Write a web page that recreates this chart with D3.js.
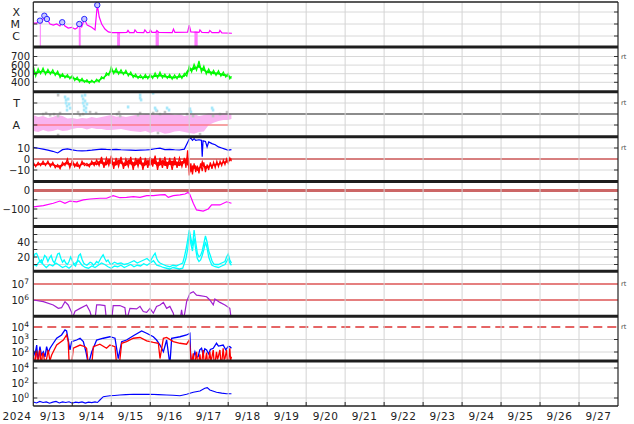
<!DOCTYPE html>
<html><head><meta charset="utf-8">
<script src="https://cdn.jsdelivr.net/npm/d3@7"></script>
<style>
body{margin:0;background:#fff}
svg{display:block}
text{font-family:"DejaVu Sans",sans-serif;fill:#222}
</style>
</head><body>
<svg id="c" width="634" height="424"></svg>
<script>
// ---------------- DATA (hours since 2024-09-13 00:00 UT) ----------------
const dayLabels = ["9/13","9/14","9/15","9/16","9/17","9/18","9/19","9/20","9/21","9/22","9/23","9/24","9/25","9/26","9/27"];
const yearLabel = "2024";

// Panel 1: X-ray flux
const xray = [[0,1.2e-5],[2.1,1.2e-5],[4.1,1.9e-5],[5.2,1.3e-5],[6.8,4.9e-5],[7.5,2.2e-5],[8.4,2.6e-5],[10.3,1e-5],[12.3,8e-6],[14.4,1e-5],[16.4,6.8e-6],[17.8,1.4e-5],[19.5,6.8e-6],[21.5,4.6e-6],[23.6,5.3e-6],[25.7,3.8e-6],[26.9,4.6e-6],[28.3,1e-5],[29.8,5.9e-6],[31.4,2.6e-5],[33.2,8e-6],[35.9,5.3e-6],[38,3.2e-6],[39.4,3.8e-4],[40.6,3.8e-5],[42.1,1e-5],[44.1,3.8e-6],[46.2,2.2e-6],[48.4,1.9e-6],[53.4,1.9e-6],[57.6,2.0e-6],[58.3,2.9e-6],[59.2,1.9e-6],[62,1.9e-6],[62.6,3.2e-6],[63.8,2.0e-6],[68,1.9e-6],[68.7,3.2e-6],[70,1.9e-6],[71.5,2e-6],[72.1,3.2e-6],[73,2e-6],[75.5,2e-6],[76.1,2.9e-6],[77.3,2e-6],[85.5,1.9e-6],[86.3,3.8e-6],[87.2,2e-6],[95,2.1e-6],[96,8e-6],[97,2.2e-6],[102,2e-6],[102.6,3.2e-6],[103.8,2e-6],[108,1.9e-6],[108.7,2.9e-6],[110,1.9e-6],[114.3,1.9e-6],[114.9,2.9e-6],[116.1,1.8e-6],[122.3,1.7e-6]];
const xrayGaps = [[4.0,4.6,1.9e-5],[28.0,29.2,1e-5],[51.6,53.4,1.9e-6],[75.3,77.3,2.2e-6],[99.2,101.2,2.4e-6]];
const xrayFlares = [[4.1,1.9e-5],[6.8,4.9e-5],[8.4,2.6e-5],[17.8,1.4e-5],[28.3,1e-5],[31.4,2.6e-5],[39.4,3.8e-4]];
const xrayTicks = [[1e-4,"X"],[1e-5,"M"],[1e-6,"C"]];

// Panel 2: solar wind speed envelope [hour, low, high]
const speed = [[0,440,590],[1.5,470,540],[3,480,560],[4.5,500,545],[6,495,565],[7.5,490,540],[9,490,550],[10.5,495,535],[12,485,545],[13.5,480,525],[15,470,530],[16.5,455,510],[18,445,500],[19.5,450,490],[21,435,490],[22.5,440,480],[24,425,480],[25.5,420,465],[27,410,460],[28.5,405,450],[30,395,445],[31.5,400,435],[33,385,430],[34.5,390,425],[36,385,425],[37.5,395,420],[39,395,435],[40.5,405,445],[42,420,465],[43.5,440,480],[45,455,510],[46.5,480,530],[48,495,580],[49.5,500,550],[51,490,560],[52.5,495,540],[54,485,545],[55.5,490,530],[57,480,540],[58.5,475,520],[60,465,520],[61.5,455,500],[63,440,495],[64.5,445,485],[66,430,485],[67.5,440,480],[69,430,490],[70.5,440,485],[72,435,495],[73.5,445,490],[75,440,510],[76.5,450,500],[78,445,520],[79.5,450,500],[81,440,495],[82.5,445,485],[84,430,490],[85.5,435,480],[87,425,485],[88.5,440,485],[90,435,495],[91.5,445,490],[93,445,505],[94.5,470,560],[96,500,590],[97.5,520,580],[99,520,610],[100.5,540,600],[102,540,650],[103.5,520,590],[105,505,590],[106.5,495,550],[108,485,555],[109.5,490,540],[111,475,540],[112.5,480,530],[114,470,535],[115.5,470,520],[117,455,520],[118.5,460,510],[120,440,500],[121,440,490],[122,425,470]];
const speedTicks = [400,500,600,700];

// Panel 3: T / A scatter
const pinkBand = [[0,0.45,-0.27],[3,0.36,-0.32],[6,0.41,-0.23],[9,0.32,-0.3],[12,0.36,-0.27],[15,0.45,-0.2],[18,0.41,-0.27],[21,0.3,-0.25],[24,0.32,-0.18],[27,0.27,-0.14],[30,0.32,-0.14],[33,0.3,-0.2],[36,0.36,-0.14],[39,0.32,-0.18],[42,0.36,-0.18],[45,0.41,-0.23],[48,0.45,-0.23],[51,0.38,-0.2],[54,0.41,-0.18],[57,0.36,-0.23],[60,0.41,-0.27],[63,0.45,-0.3],[66,0.45,-0.32],[69,0.5,-0.27],[72,0.5,-0.36],[75,0.45,-0.3],[78,0.5,-0.32],[81,0.55,-0.4],[84,0.55,-0.36],[87,0.45,-0.3],[90,0.5,-0.27],[93,0.41,-0.32],[96,0.45,-0.36],[99,0.5,-0.4],[102,0.41,-0.32],[105,0.45,-0.3],[108,0.55,0],[111,0.5,0.1],[114,0.55,0.18],[117,0.55,0.23],[120,0.55,0.23],[122,0.5,0.27]];
const bluePts = [[19.5,1.27],[20.1,1.14],[20.1,1.0],[20.7,0.86],[21.4,1.18],[22,0.95],[22.6,0.77],[20.7,0.68],[30,1.32],[30.6,1.18],[30.6,1.0],[31.2,0.86],[31.8,1.36],[31.8,1.09],[32.4,0.77],[33,0.95],[31.2,0.68],[32.4,0.59],[65.7,1.36],[65.7,1.23],[66.3,1.14],[58.3,0.82],[74.9,0.77],[75.5,0.68],[82.3,0.77],[83.5,0.68],[96.4,0.73],[97,0.59],[110,0.77],[110.6,0.68],[15.2,1.5],[73.7,1.45]];
const grayPts = [[6,0.5],[7.8,0.55],[10.3,0.45],[12.7,0.5],[15.2,0.41],[16.4,0.55],[15.2,-0.45],[15.2,1.36],[27.5,0.59],[28.7,0.45],[30.6,0.5],[34.9,0.59],[38.6,0.55],[51.5,0.5],[52.7,0.59],[53.4,0.41],[64.4,0.45],[65.7,0.55],[73.7,0.55],[76.1,0.64],[78,0.5],[81,0.59],[76.7,-0.36],[94.6,0.5],[96.4,0.64],[98.3,0.41],[102.6,-0.41],[110.6,0.41],[114.9,0.5],[119.2,0.59]];
const taTicks = [[1,"T"],[0,"A"]];

// Panel 4: magnetic field Bt and Bz envelope
const bt = [[0,10.5],[3,9.8],[6,9],[9,8],[12,7],[15,5.5],[18,8.5],[21,9.2],[24,8.3],[27,7.5],[30,7.4],[33,7.6],[36,8],[39,8.5],[42,9],[45,8.7],[48,8.5],[51,8.8],[54,8.4],[57,8.2],[60,8],[63,7.8],[66,8],[69,8.2],[72,8.5],[75,9.3],[78,9.8],[81,8.5],[84,8.8],[87,8.4],[90,8.2],[93,9],[95,15],[96,18],[97,19],[98,17],[99,18.5],[100,17],[102,17.5],[103.5,17],[104,2],[104.5,16.5],[106,16],[107,11],[108,15.5],[110,14],[112,13],[114,11],[116,10],[118,9],[120,8],[122,8.5]];
const bz = [[0,-8,-3],[1.5,-7,-4],[3,-7,-3],[4.5,-6,-3],[6,-7,-2],[7.5,-6,-3],[9,-6,-2],[10.5,-7,-3],[12,-7,-3],[13.5,-8,-4],[15,-9,-5],[16.5,-9,-4],[18,-8,-3],[19.5,-6,-2],[21,-7,0],[22.5,-8,-2],[24,-8,-1],[25.5,-7,-3],[27,-9,-3],[28.5,-8,-4],[30,-7,-2],[31.5,-6,-2],[33,-8,-4],[34.5,-7,-3],[36,-7,-2],[37.5,-6,-1],[39,-8,-1],[40.5,-6,0],[42,-7,2],[43.5,-8,-1],[45,-9,1],[46.5,-6,3],[48,-8,3],[49.5,-9,0],[51,-9,1],[52.5,-7,2],[54,-7,2],[55.5,-9,-1],[57,-9,0],[58.5,-7,2],[60,-8,2],[61.5,-10,0],[63,-9,1],[64.5,-7,3],[66,-8,2],[67.5,-10,-1],[69,-9,1],[70.5,-8,2],[72,-10,2],[73.5,-7,3],[75,-8,3],[76.5,-10,0],[78,-9,1],[79.5,-8,2],[81,-10,2],[82.5,-9,0],[84,-8,1],[85.5,-10,2],[87,-9,2],[88.5,-8,0],[90,-10,1],[91.5,-7,0],[93,-6,1],[94,-8,4],[95,-12,8],[96,-15,6],[97,-16,-4],[98,-14,-2],[99,-11,-4],[100,-12,-3],[101,-13,-6],[102,-13,-5],[103,-10,-4],[104,-11,4],[105,-9,-3],[106,-12,-4],[107,-10,-5],[108,-10,-4],[109,-8,-3],[110,-9,-4],[111,-7,-3],[112,-8,-3],[113,-7,-2],[114,-7,-3],[115,-6,-2],[116,-6,-2],[117,-5,-1],[118,-5,-1],[119,-5,0],[120,-4,0],[121,-3,1],[122,-2,2]];
const bTicks = [10,0,-10];

// Panel 5: Dst-like index
const dst = [[0,-88],[6.2,-82],[12.3,-69],[16.4,-57],[19.5,-69],[22.6,-57],[26.7,-61],[30.8,-51],[34.9,-46],[41,-42],[45.1,-42],[49.2,-28],[53.3,-39],[57.4,-37],[61.6,-33],[65.7,-37],[69.8,-28],[73.9,-28],[78,-24],[81.1,-22],[83.1,-37],[86.2,-28],[90.3,-24],[93.4,-19],[95.4,-10],[96.4,-22],[98.5,-69],[100.5,-105],[104.6,-111],[107.7,-100],[109.8,-78],[114.9,-78],[119,-61],[122,-69]];
const dstTicks = [0,-100];

// Panel 6: density (two traces)
const dens1 = [[0,18],[1,24],[2,25],[3,20],[4,14],[5,12],[6,16],[7,22],[8,20],[9,14],[10,19],[11,22],[12,15],[13,12],[14,18],[15,24],[16,25],[17,18],[18,13],[19,16],[20,12],[21,10],[22,14],[23,20],[24,15],[25,10],[26,8],[27,14],[28,22],[29,24],[30,17],[31,12],[32,10],[33,9],[34,11],[35,13],[36,12],[37,9],[38,11],[39,14],[40,12],[42,20],[43,23],[44,18],[45,14],[46,16],[47,12],[48,10],[50,13],[52,11],[54,12],[56,10],[58,11],[60,13],[62,15],[64,12],[66,14],[68,16],[70,18],[72,14],[74,22],[75,25],[76,18],[77,14],[78,12],[80,10],[82,8],[84,7],[86,9],[88,8],[90,10],[92,12],[93,20],[94,30],[95,42],[96,56],[97,45],[98,35],[99,56],[100,40],[101,25],[102,20],[103,22],[104,28],[105,38],[106,48],[107,40],[108,28],[109,22],[110,15],[111,11],[112,10],[114,10],[116,12],[118,14],[119,20],[120,24],[121,16],[122,12]];
const dens2 = [[0,10],[2,8],[3,12],[5,16],[6,10],[8,6],[10,10],[12,8],[14,12],[16,9],[18,6],[20,8],[22,5],[24,9],[26,12],[28,15],[30,9],[32,6],[34,5],[36,8],[38,6],[40,9],[42,12],[44,10],[46,7],[48,5],[50,8],[52,7],[54,9],[56,6],[58,8],[60,10],[62,7],[64,9],[66,8],[68,11],[70,9],[72,12],[74,15],[76,9],[78,8],[80,6],[82,5],[84,4],[86,6],[88,5],[90,4],[92,5],[94,18],[95,30],[96,50],[97,38],[98,28],[99,45],[100,30],[101,18],[102,14],[103,16],[104,22],[105,30],[106,40],[107,32],[108,20],[109,14],[110,9],[112,7],[114,6],[116,8],[118,10],[120,18],[121,12],[122,9]];
const densTicks = [20,40];

// Panel 7: electron flux (log)
const elec = [[0,1e6],[6.2,7.9e5],[12.3,4.9e5],[15.4,3e5],[17.4,3.3e5],[19.5,7.9e5],[21.5,4.9e5],[23.6,1.7e5],[24.2,8e4],[25.7,2e5],[28.8,3e5],[32.8,4.9e5],[34.9,1.9e5],[36.5,5e4],[37.9,5e4],[39,4.9e5],[41,4.9e5],[44.1,4.5e5],[45.1,5e4],[48.2,5e4],[49.2,4.5e5],[53.3,4.5e5],[56.4,3.3e5],[57.4,5e4],[59.5,3e5],[63.6,2.75e5],[65.7,4e5],[67.7,1.9e5],[69.8,1.7e5],[71.8,3e5],[73.9,1.5e5],[75.9,4e5],[78,4.9e5],[80.1,7.1e5],[82.1,3e5],[84.1,4e5],[86.2,1.5e5],[87.2,5e4],[90.3,5e4],[91.3,2.4e5],[92.3,5e4],[93.4,1.9e5],[94.4,7.9e5],[96.4,2.6e6],[98.5,3.3e6],[100.5,2e6],[102.6,1.9e6],[106.7,1.6e6],[108.7,1e6],[110.8,4.9e5],[111.8,1.15e6],[114.9,7.1e5],[118,4.9e5],[121,3e5],[122,5e4]];
const elecTicks = [1e7,1e6];
const elecRefs = [1e6,1e7];

// Panel 8: proton flux (log), two channels
const protA = [[0,145],[1,60],[2.1,360],[2.6,40],[3.1,32],[4.1,265],[5,60],[6.2,105],[7.2,40],[8.2,265],[9.2,90],[10.3,200],[12.3,500],[14.4,1260],[17.4,2300],[19.5,5800],[20.5,4800],[21.5,910],[22.6,145],[23.6,670],[26.7,910],[28.8,1260],[30.8,670],[32.4,105],[33.9,10],[36,105],[39,910],[43.1,1260],[47.2,1660],[50.3,1260],[52.3,30],[54.4,670],[57.4,910],[61.6,2000],[66.7,4800],[69.8,3160],[73.9,1660],[75.9,910],[78,360],[80.1,105],[82.1,910],[84.1,10],[85.2,1260],[90.3,1660],[94.4,2300],[96.4,3160],[96.8,105],[97.4,10],[99.5,105],[100.5,40],[101.5,42],[102.5,150],[103.6,200],[104.6,60],[105.6,180],[106.7,145],[108,70],[109,160],[110.8,200],[112.8,500],[114,300],[116.9,360],[118.5,150],[120,280],[121,265],[122,200]];
const protB = [[0,58],[0.5,15],[1,10],[1.5,80],[2.1,105],[2.6,15],[3.1,10],[3.6,90],[4.1,145],[4.6,20],[5.1,10],[5.6,70],[6.2,79],[7,15],[8.2,30],[9.2,145],[10.2,20],[11.3,58],[12.3,105],[14.4,360],[18.5,910],[20.5,2300],[21.5,670],[22.1,10],[23.6,10],[24.6,200],[28.8,360],[31.8,265],[32.8,200],[33.9,10],[36,10],[37,265],[41,420],[45.1,200],[47.2,360],[50.3,265],[51.3,10],[53,10],[54.4,500],[57.4,670],[61.6,1260],[65.7,1450],[69.8,790],[73.9,580],[77,500],[78,30],[80.1,1260],[82.1,1450],[86.2,670],[90.3,500],[94.4,420],[96,910],[97.4,10],[98.5,79],[99,15],[99.5,10],[100.5,105],[101,20],[101.5,10],[102.6,65],[103.1,15],[103.6,10],[104.6,145],[105.1,20],[105.6,10],[106.7,90],[107.2,15],[107.7,10],[108.7,105],[109.3,20],[109.8,30],[110.8,145],[111.3,15],[111.8,10],[112.8,105],[113.4,25],[113.9,42],[114.9,145],[115.4,20],[115.9,10],[116.9,200],[117.5,25],[118,30],[119,145],[119.5,20],[120,10],[121,200],[121.5,20],[122,42]];
const protTicks = [1e4,1e3,1e2];
const protRef = 1e4;

// Panel 9: low-energy flux (log)
const low = [[0,0.3],[2,0.22],[4,0.35],[6,0.25],[8,0.3],[10,0.2],[12,0.28],[14,0.35],[16,0.22],[18,0.3],[20,0.25],[22,0.32],[24,0.2],[26,0.28],[28,0.24],[30,0.3],[32,0.21],[34,0.28],[36,0.24],[38,0.3],[39.5,0.25],[41,0.54],[43.1,1.5],[45,1.7],[47.2,2],[50,2.2],[53.3,2.5],[57,2.8],[61.6,3.1],[66,3.0],[71.8,3.1],[77,2.8],[82.1,2.5],[86,2.3],[90.3,2],[94.4,3.1],[98.5,5.8],[102.6,8.5],[105.6,19.5],[107.1,24],[108.7,11.7],[112.8,5.8],[116,4.5],[119,3.7],[122,3.7]];
const lowTicks = [1e4,1e2,1];

// ---------------- CHART ----------------
const svg = d3.select("#c");
const X0 = 33.3, X1 = 618;
const t0 = Date.UTC(2024,8,13);
const x = d3.scaleUtc().domain([new Date(t0), new Date(Date.UTC(2024,8,28))]).range([X0, X1]);
const hx = h => x(new Date(t0 + h*3600e3));
const top0 = 2, bot0 = 406, nP = 9, ph = (bot0 - top0)/nP;
const pt = i => top0 + i*ph;

const ys = [
  d3.scaleLog().domain([1e-6,1e-4]).range([36,12]),
  d3.scaleLinear().domain([400,700]).range([82.3,56.5]),
  d3.scaleLinear().domain([0,1]).range([125,103]),
  d3.scaleLinear().domain([-10,10]).range([170,148]),
  d3.scaleLinear().domain([-100,0]).range([209,190.5]),
  d3.scaleLinear().domain([20,40]).range([257,242]),
  d3.scaleLog().domain([1e6,1e7]).range([300,284]),
  d3.scaleLog().domain([1e2,1e4]).range([352,327]),
  d3.scaleLog().domain([1,1e4]).range([398,368])
];

const defs = svg.append("defs");
for (let i=0;i<nP;i++){
  defs.append("clipPath").attr("id","cp"+i).append("rect")
    .attr("x",X0).attr("y",pt(i)).attr("width",X1-X0).attr("height",ph);
}
const layers = d3.range(nP).map(i => svg.append("g").attr("clip-path","url(#cp"+i+")"));

// vertical day grid
const gridG = svg.append("g");
const days = x.ticks(d3.utcDay.every(1));
gridG.selectAll("line.v").data(days.slice(1,-1)).join("line")
  .attr("x1",d=>x(d)).attr("x2",d=>x(d)).attr("y1",top0).attr("y2",bot0)
  .attr("stroke","#d4d4d4").attr("stroke-width",1);

// horizontal grid per panel
const hGrid = [[1e-6,1e-5,1e-4],[400,500,600,700],[0,1],[-10,10],[-150,-100,-50],[10,20,30,40,50],[],[1e2,1e3],[1,1e2,1e4]];
hGrid.forEach((vals,i)=>{
  vals.forEach(v=>{
    const y = ys[i](v);
    layers[i].append("line").attr("x1",X0).attr("x2",X1).attr("y1",y).attr("y2",y)
      .attr("stroke","#d8d8d8").attr("stroke-width",1);
    svg.append("line").attr("x1",X0).attr("x2",X0+4).attr("y1",y).attr("y2",y).attr("stroke","#333");
    svg.append("line").attr("x1",X1-4).attr("x2",X1).attr("y1",y).attr("y2",y).attr("stroke","#333");
  });
});

const lineOf = (ys_) => d3.line().x(d=>hx(d[0])).y(d=>ys_(d[1]));
// zig-zag through an envelope: alternates low/high edges of each record
const zigzag = (ys_, data) => {
  const pts = [];
  data.forEach((d,i)=>{ pts.push([hx(d[0]), ys_(i%2 ? d[1] : d[2])]); });
  return d3.line()(pts);
};
// inner core of envelope
const coreArea = (ys_) => d3.area().x(d=>hx(d[0]))
  .y0(d=>ys_(d[1] + (d[2]-d[1])*0.3)).y1(d=>ys_(d[2] - (d[2]-d[1])*0.3));

// Panel 1
{
  const g = layers[0], y = ys[0];
  g.selectAll("rect.gap").data(xrayGaps).join("rect")
    .attr("x",d=>hx(d[0])).attr("width",d=>Math.max(1,hx(d[1])-hx(d[0])))
    .attr("y",d=>y(d[2])).attr("height",d=>pt(1)-y(d[2]))
    .attr("fill","#ff7aff");
  g.append("path").datum(xray).attr("d",lineOf(y)).attr("fill","none")
    .attr("stroke","#ff00ff").attr("stroke-width",1.2);
  g.selectAll("circle").data(xrayFlares).join("circle")
    .attr("cx",d=>hx(d[0])).attr("cy",d=>y(d[1])).attr("r",2.7)
    .attr("fill","#c8c8ff").attr("stroke","#2a2aff").attr("stroke-width",1);
}
// Panel 2
{
  const g = layers[1], y = ys[1];
  g.append("path").datum(speed).attr("d",coreArea(y)).attr("fill","#00ee00");
  g.append("path").attr("d",zigzag(y, speed)).attr("fill","none")
    .attr("stroke","#00ff00").attr("stroke-width",1.2);
}
// Panel 3
{
  const g = layers[2], y = ys[2];
  g.append("path").datum(pinkBand)
    .attr("d",d3.area().x(d=>hx(d[0])).y0(d=>y(d[2])).y1(d=>y(d[1])))
    .attr("fill","#f9b4f0");
  g.selectAll("rect.gp").data(grayPts).join("rect")
    .attr("x",d=>hx(d[0])-1.2).attr("y",d=>y(d[1])-1.2).attr("width",2.6).attr("height",2.6)
    .attr("fill","#c4c4c4");
  g.selectAll("rect.bp").data(bluePts).join("rect")
    .attr("x",d=>hx(d[0])-1.2).attr("y",d=>y(d[1])-1.5).attr("width",2.6).attr("height",3)
    .attr("fill","#a8e8fa");
  g.append("line").attr("x1",hx(0)).attr("x2",hx(120)).attr("y1",y(0)).attr("y2",y(0))
    .attr("stroke","#ff5c5c").attr("stroke-width",1.2);
  g.append("line").attr("x1",X0).attr("x2",X1).attr("y1",y(0.5)).attr("y2",y(0.5))
    .attr("stroke","#666").attr("stroke-width",1.5);
}
// Panel 4
{
  const g = layers[3], y = ys[3];
  g.append("line").attr("x1",X0).attr("x2",X1).attr("y1",y(0)).attr("y2",y(0))
    .attr("stroke","#b00000").attr("stroke-width",1);
  g.append("path").datum(bz).attr("d",coreArea(y)).attr("fill","#ff0000");
  g.append("path").attr("d",zigzag(y, bz)).attr("fill","none")
    .attr("stroke","#ff0000").attr("stroke-width",1.2);
  g.append("path").datum(bt).attr("d",lineOf(y)).attr("fill","none")
    .attr("stroke","#0000ff").attr("stroke-width",1.2);
}
// Panel 5
{
  const g = layers[4], y = ys[4];
  g.append("line").attr("x1",X0).attr("x2",X1).attr("y1",y(0)).attr("y2",y(0))
    .attr("stroke","#cc6666").attr("stroke-width",3);
  g.append("path").datum(dst).attr("d",lineOf(y)).attr("fill","none")
    .attr("stroke","#ff00ff").attr("stroke-width",1.2);
}
// Panel 6
{
  const g = layers[5], y = ys[5];
  [dens2, dens1].forEach(s=>{
    g.append("path").datum(s).attr("d",lineOf(y)).attr("fill","none")
      .attr("stroke","#00ffff").attr("stroke-width",1.3);
  });
}
// Panel 7
{
  const g = layers[6], y = ys[6];
  elecRefs.forEach(v=>{
    g.append("line").attr("x1",X0).attr("x2",X1).attr("y1",y(v)).attr("y2",y(v))
      .attr("stroke","#cc0000").attr("stroke-width",1.2);
  });
  g.append("path").datum(elec).attr("d",lineOf(y)).attr("fill","none")
    .attr("stroke","#a020d0").attr("stroke-width",1.2);
}
// Panel 8
{
  const g = layers[7], y = ys[7];
  g.append("line").attr("x1",X0).attr("x2",X1).attr("y1",y(protRef)).attr("y2",y(protRef))
    .attr("stroke","#dd3333").attr("stroke-width",1.5).attr("stroke-dasharray","9,5");
  g.append("path").datum(protA).attr("d",lineOf(y)).attr("fill","none")
    .attr("stroke","#0000ff").attr("stroke-width",1.3);
  g.append("path").datum(protB).attr("d",lineOf(y)).attr("fill","none")
    .attr("stroke","#ff0000").attr("stroke-width",1.3);
}
// Panel 9
{
  const g = layers[8], y = ys[8];
  g.append("path").datum(low).attr("d",lineOf(y)).attr("fill","none")
    .attr("stroke","#0000ff").attr("stroke-width",1.1);
}

// Frame
const frame = svg.append("g");
frame.append("line").attr("x1",X0).attr("x2",X0).attr("y1",top0).attr("y2",bot0).attr("stroke","#222").attr("stroke-width",1.2);
frame.append("line").attr("x1",X1).attr("x2",X1).attr("y1",top0).attr("y2",bot0).attr("stroke","#222").attr("stroke-width",1.2);
frame.append("line").attr("x1",X0).attr("x2",X1).attr("y1",top0).attr("y2",top0).attr("stroke","#222").attr("stroke-width",1.5);
frame.append("line").attr("x1",X0).attr("x2",X1).attr("y1",bot0).attr("y2",bot0).attr("stroke","#222").attr("stroke-width",1.5);
for (let i=1;i<nP;i++){
  frame.append("line").attr("x1",X0).attr("x2",X1).attr("y1",pt(i)).attr("y2",pt(i))
    .attr("stroke","#1e1e1e").attr("stroke-width",3);
}
days.slice(1,-1).forEach(d=>{
  frame.append("line").attr("x1",x(d)).attr("x2",x(d)).attr("y1",bot0).attr("y2",bot0-4).attr("stroke","#222");
});

// Y labels
const FS = 10;
function label(i, v, txt, xr, fs){
  svg.append("text").attr("x",xr).attr("y",ys[i](v)).attr("dy","0.36em")
    .attr("text-anchor","end").attr("font-size",fs||FS).text(txt);
}
function pow10(i, v){
  const e = Math.round(Math.log10(v));
  const t = svg.append("text").attr("x",29).attr("y",ys[i](v)).attr("dy","0.4em")
    .attr("text-anchor","end").attr("font-size",FS);
  t.append("tspan").text("10");
  t.append("tspan").attr("dy","-0.55em").attr("font-size",7.5).text(e);
}
xrayTicks.forEach(d=>label(0,d[0],d[1],20,11));
speedTicks.forEach(v=>label(1,v,String(v),30));
taTicks.forEach(d=>label(2,d[0],d[1],20,11));
bTicks.forEach(v=>label(3,v,v<0?"\u2212"+Math.abs(v):String(v),30));
dstTicks.forEach(v=>label(4,v,v<0?"\u2212"+Math.abs(v):String(v),30));
densTicks.forEach(v=>label(5,v,String(v),30));
elecTicks.forEach(v=>pow10(6,v));
protTicks.forEach(v=>pow10(7,v));
lowTicks.forEach(v=>pow10(8,v));

// "rt" markers
[[1,700],[2,1],[3,10],[6,1e7],[7,1e4]].forEach(([i,v])=>{
  svg.append("text").attr("x",621).attr("y",ys[i](v)).attr("dy","0.35em")
    .attr("font-size",6.5).style("fill","#444").text("rt");
});

// X labels
svg.append("text").attr("x",17).attr("y",420).attr("text-anchor","middle")
  .attr("font-size",10.5).attr("letter-spacing",0.6).text(yearLabel);
svg.selectAll("text.day").data(dayLabels).join("text")
  .attr("x",(d,i)=>x(new Date(t0 + (i+0.5)*86400e3)))
  .attr("y",420).attr("text-anchor","middle").attr("font-size",10.5)
  .attr("letter-spacing",0.6).text(d=>d);
</script>
</body></html>
